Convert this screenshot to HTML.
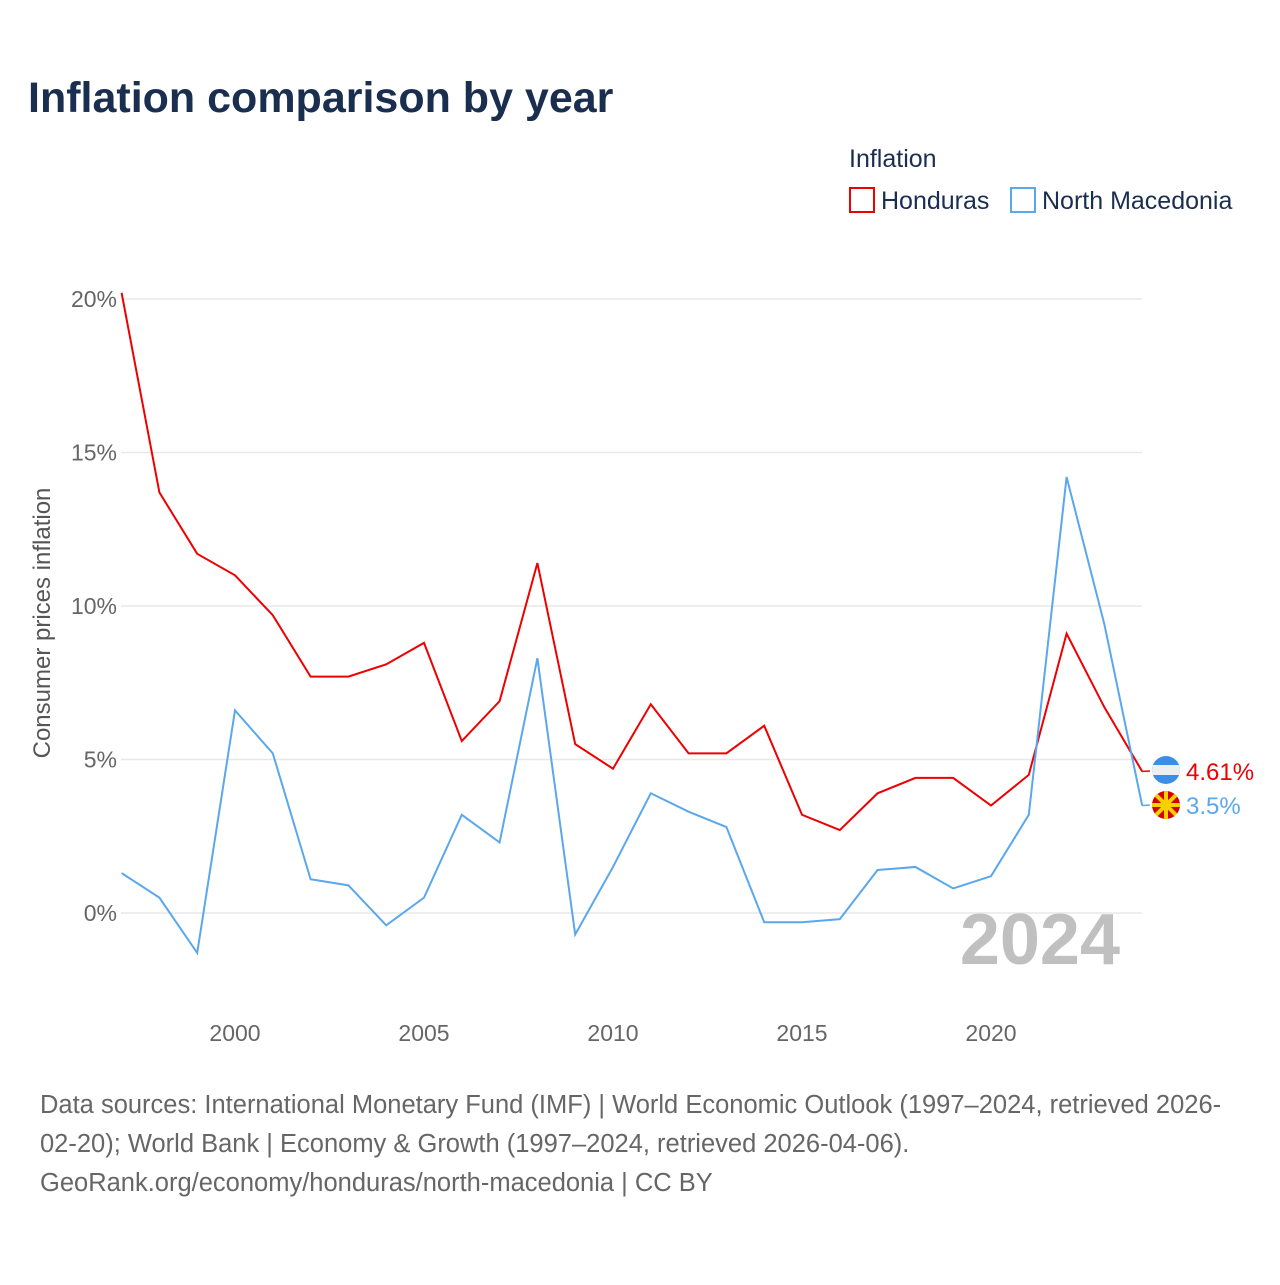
<!DOCTYPE html>
<html><head><meta charset="utf-8"><style>
body{margin:0;background:#fff;font-family:"Liberation Sans",sans-serif;}
</style></head><body>
<svg width="1280" height="1280" xmlns="http://www.w3.org/2000/svg" font-family="Liberation Sans, sans-serif">
<text x="28" y="112" font-size="43" font-weight="bold" fill="#1a2e4f">Inflation comparison by year</text>
<text x="849" y="167" font-size="25" fill="#1a2e4f">Inflation</text>
<g><rect x="850" y="188" width="24" height="24" fill="none" stroke="#ee0000" stroke-width="2"/><text x="881" y="209" font-size="25" fill="#1a2e4f">Honduras</text></g>
<g><rect x="1011" y="188" width="24" height="24" fill="none" stroke="#5aa7ee" stroke-width="2"/><text x="1042" y="209" font-size="25" fill="#1a2e4f">North Macedonia</text></g>
<text transform="translate(50,623) rotate(-90)" text-anchor="middle" font-size="24" fill="#555">Consumer prices inflation</text>
<g id="grid"></g><g id="yticks"></g><g id="xticks"></g>
<text x="1120" y="964" text-anchor="end" font-size="72" font-weight="bold" fill="#c0c0c0">2024</text>
<g id="series"></g>
<text font-size="25.5" fill="#666"><tspan x="40" y="1113">Data sources: International Monetary Fund (IMF) | World Economic Outlook (1997–2024, retrieved 2026-</tspan><tspan x="40" y="1152">02-20); World Bank | Economy &amp; Growth (1997–2024, retrieved 2026-04-06).</tspan><tspan x="40" y="1191">GeoRank.org/economy/honduras/north-macedonia | CC BY</tspan></text>
</svg>
<script>
const years=[1997,1998,1999,2000,2001,2002,2003,2004,2005,2006,2007,2008,2009,2010,2011,2012,2013,2014,2015,2016,2017,2018,2019,2020,2021,2022,2023,2024];
const honduras=[20.2,13.7,11.7,11.0,9.7,7.7,7.7,8.1,8.8,5.6,6.9,11.4,5.5,4.7,6.8,5.2,5.2,6.1,3.2,2.7,3.9,4.4,4.4,3.5,4.5,9.1,6.7,4.61];
const macedonia=[1.3,0.5,-1.3,6.6,5.2,1.1,0.9,-0.4,0.5,3.2,2.3,8.3,-0.7,1.5,3.9,3.3,2.8,-0.3,-0.3,-0.2,1.4,1.5,0.8,1.2,3.2,14.2,9.4,3.5];
const yTicks=[0,5,10,15,20];
const xTicks=[2000,2005,2010,2015,2020];
const NS="http://www.w3.org/2000/svg";
const X=y=>121.6+(y-1997)*37.8, Y=v=>913-v*30.7;
function mk(t,a,p){const e=document.createElementNS(NS,t);for(const k in a)e.setAttribute(k,a[k]);document.getElementById(p).appendChild(e);return e;}
yTicks.forEach(v=>{
 const l=mk('line',{x1:121,x2:1142,y1:Y(v),y2:Y(v),stroke:'#e8e8e8','stroke-width':1.5},'grid');
 
 
 const t=mk('text',{x:117,y:Y(v)+8,'text-anchor':'end','font-size':23,fill:'#666'},'yticks');
 t.textContent=v+'%';
 
 
});
xTicks.forEach(v=>{
 const t=mk('text',{x:X(v),y:1041,'text-anchor':'middle','font-size':23,fill:'#666'},'xticks');
 t.textContent=v;
 
 
});
function series(vals,color,name,ly,lab){
 const p=mk('path',{d:vals.map((v,i)=>(i?'L':'M')+X(years[i])+','+Y(v)).join(''),fill:'none',stroke:color,'stroke-width':2},'series');
 
 
 const last=vals[vals.length-1];
 const c=mk('path',{d:`M${X(2024)},${Y(last)}L1150,${ly}`,fill:'none',stroke:color,'stroke-width':1.5},'series');
 
 
 const t=mk('text',{x:1186,y:ly+9,'font-size':24,fill:color},'series');
 t.textContent=lab;
 
 
}
series(honduras,'#ee0000','honduras',771,'4.61%');
series(macedonia,'#5aa7ee','north-macedonia',805,'3.5%');
const g=document.getElementById('series');
g.insertAdjacentHTML('beforeend',`<g><clipPath id="c1"><circle cx="1166" cy="770" r="14"/></clipPath><g clip-path="url(#c1)"><rect x="1150" y="755" width="32" height="30" fill="#3a8ee8"/><rect x="1150" y="765" width="32" height="10" fill="#eee"/></g></g>
<g><clipPath id="c2"><circle cx="1166" cy="805" r="14"/></clipPath><g clip-path="url(#c2)"><rect x="1150" y="790" width="32" height="30" fill="#d20000"/><g stroke="#f8d000" stroke-width="4"><line x1="1150" y1="805" x2="1182" y2="805"/><line x1="1166" y1="790" x2="1166" y2="820"/><line x1="1152" y1="791" x2="1180" y2="819"/><line x1="1180" y1="791" x2="1152" y2="819"/></g><circle cx="1166" cy="805" r="5" fill="#f8d000"/></g></g>`);
</script>
</body></html>
